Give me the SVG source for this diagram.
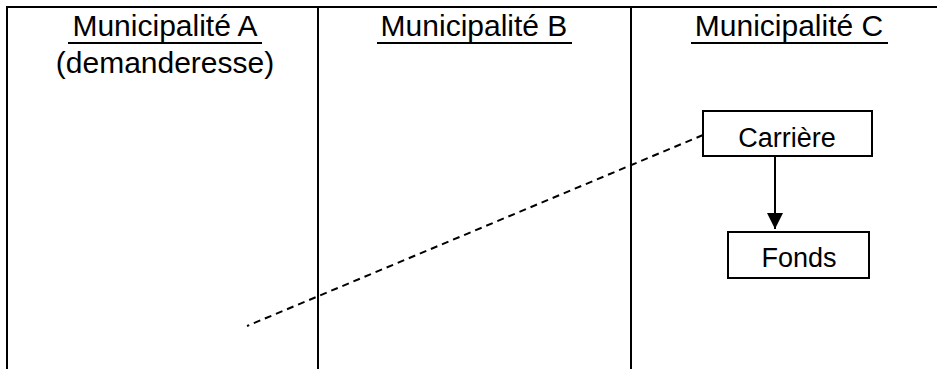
<svg xmlns="http://www.w3.org/2000/svg" width="937" height="369" viewBox="0 0 937 369">
<style>
.t{font-family:"Liberation Sans",Arial,sans-serif;fill:#000;text-anchor:middle}
.h{font-size:30px}
.b{font-size:27px}
.ln{stroke:#000;stroke-width:2;fill:none}
.box{fill:#fff;stroke:#000;stroke-width:2}
</style>
<defs>
<marker id="ah" markerWidth="16" markerHeight="16" refX="16" refY="8" orient="auto" markerUnits="userSpaceOnUse">
<path d="M0,0 L16,8 L0,16 Z" fill="#000"/>
</marker>
</defs>
<rect width="937" height="369" fill="#fff"/>
<g id="frame">
<path class="ln" d="M7,369 V7 H937 M318,7 V369 M631,7 V369"/>
</g>
<g id="col-a">
<text class="t h" x="165" y="36">Municipalité A</text>
<line class="ln" x1="68" y1="43" x2="262" y2="43"/>
<text class="t h" x="165" y="73">(demanderesse)</text>
</g>
<g id="col-b">
<text class="t h" x="474" y="36">Municipalité B</text>
<line class="ln" x1="377" y1="43" x2="572" y2="43"/>
</g>
<g id="col-c">
<text class="t h" x="789" y="36">Municipalité C</text>
<line class="ln" x1="691" y1="43" x2="888" y2="43"/>
</g>
<g id="connectors">
<line class="ln" x1="703" y1="135" x2="247" y2="326" stroke-dasharray="7 5"/>
<line class="ln" x1="775" y1="156" x2="775" y2="229" marker-end="url(#ah)"/>
</g>
<g id="carriere">
<rect class="box" x="703" y="111" width="169" height="45"/>
<text class="t b" x="787" y="147">Carrière</text>
</g>
<g id="fonds">
<rect class="box" x="728" y="232" width="141" height="46"/>
<text class="t b" x="799" y="267">Fonds</text>
</g>
</svg>
